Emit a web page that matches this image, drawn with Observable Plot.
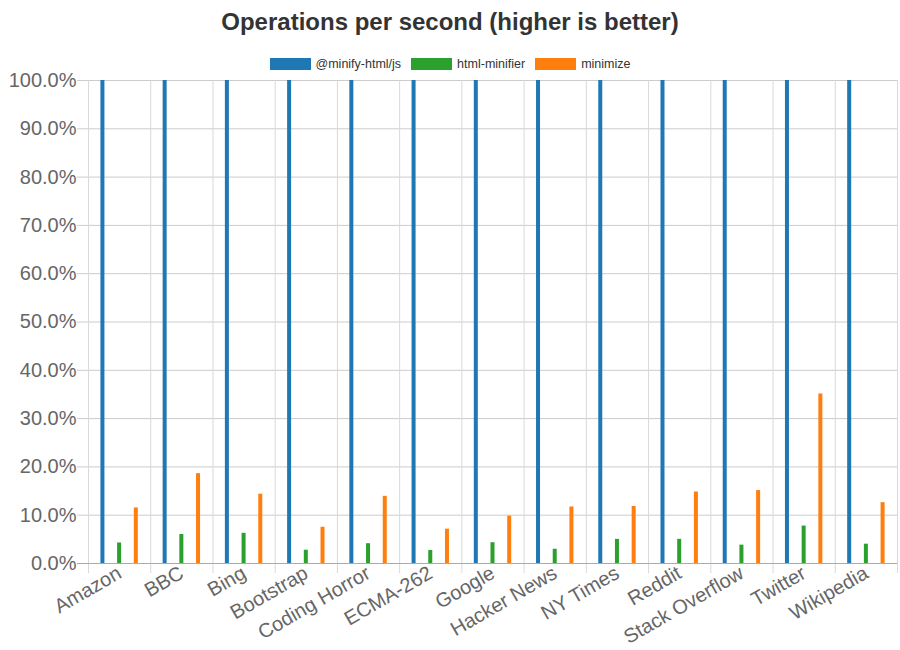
<!DOCTYPE html>
<html>
<head>
<meta charset="utf-8">
<script src="https://cdn.jsdelivr.net/npm/d3@7"></script>
<script src="https://cdn.jsdelivr.net/npm/@observablehq/plot@0.6"></script>
<style>
  body { margin: 0; background: #fff; font-family: "Liberation Sans", Arial, sans-serif; }
  #hdr { position: relative; width: 900px; height: 70px; }
  #title { position: absolute; top: 8px; left: 0; width: 900px; text-align: center; font: bold 24px "Liberation Sans", Arial, sans-serif; line-height: 28px; color: #333; }
  #legend { position: absolute; top: 58px; left: 0; width: 900px; display: flex; justify-content: center; align-items: center; font: 12.5px "Liberation Sans", Arial, sans-serif; color: #333; line-height: 12px; height: 12px; }
  .item { display: flex; align-items: center; margin: 0 5px; }
  .sw { width: 41px; height: 12px; margin-right: 5px; }
</style>
</head>
<body>
<div id="hdr">
  <div id="title">Operations per second (higher is better)</div>
  <div id="legend"></div>
</div>
<div id="chart"></div>
<script>
const sites = ["Amazon", "BBC", "Bing", "Bootstrap", "Coding Horror", "ECMA-262", "Google", "Hacker News", "NY Times", "Reddit", "Stack Overflow", "Twitter", "Wikipedia"];
const seriesNames = ["@minify-html/js", "html-minifier", "minimize"];
const seriesColors = ["#1f77b4", "#2ca02c", "#ff7f0e"];
const minifyHtmlJs = [1, 1, 1, 1, 1, 1, 1, 1, 1, 1, 1, 1, 1];
const htmlMinifier = [0.0425, 0.060, 0.0625, 0.0275, 0.041, 0.027, 0.043, 0.0295, 0.050, 0.050, 0.038, 0.0775, 0.040];
const minimize = [0.115, 0.186, 0.1435, 0.075, 0.139, 0.071, 0.098, 0.117, 0.118, 0.148, 0.151, 0.351, 0.126];
const yTicks = d3.range(0, 11).map(i => i / 10);

const seriesValues = [minifyHtmlJs, htmlMinifier, minimize];
const tables = seriesValues.map(vals => sites.map((s, i) => ({site: s, value: vals[i]})));

// legend
const legend = document.getElementById("legend");
seriesNames.forEach((n, i) => {
  const it = document.createElement("div");
  it.className = "item";
  it.innerHTML = `<div class="sw" style="background:${seriesColors[i]}"></div><span>${n}</span>`;
  legend.appendChild(it);
});

const W = 900, H = 580, ML = 88, MR = 3;
const bw = (W - ML - MR) / sites.length;
const step = 16.7;
const barW = 4;
const inset = (bw - barW) / 2;

const plot = Plot.plot({
  width: W,
  height: H,
  marginTop: 10,
  marginBottom: 87,
  marginLeft: ML,
  marginRight: MR,
  style: {fontFamily: "'Liberation Sans', Arial, sans-serif", fontSize: "20px", color: "#666", background: "transparent", overflow: "visible"},
  x: {domain: sites, padding: 0, round: false, tickSize: 0, tickPadding: 8, tickRotate: -30, label: null},
  y: {domain: [0, 1], ticks: yTicks, tickFormat: d3.format(".1%"), tickSize: 0, tickPadding: 12, label: null},
  marks: [
    Plot.ruleY(yTicks.slice(1), {stroke: "#cccccc", insetLeft: -11}),
    Plot.ruleX(sites, {x: d => d, dx: -bw / 2, stroke: "#d9d9d9", insetBottom: -10}),
    Plot.ruleX([sites[sites.length - 1]], {x: d => d, dx: bw / 2, stroke: "#d9d9d9", insetBottom: -10}),
    ...tables.map((t, k) => Plot.barY(t, {x: "site", y: "value", fill: seriesColors[k], dx: (k - 1) * step, insetLeft: inset, insetRight: inset})),
    Plot.ruleY([0], {stroke: "#aaaaaa", insetLeft: -11})
  ]
});
document.getElementById("chart").appendChild(plot);
</script>
</body>
</html>
